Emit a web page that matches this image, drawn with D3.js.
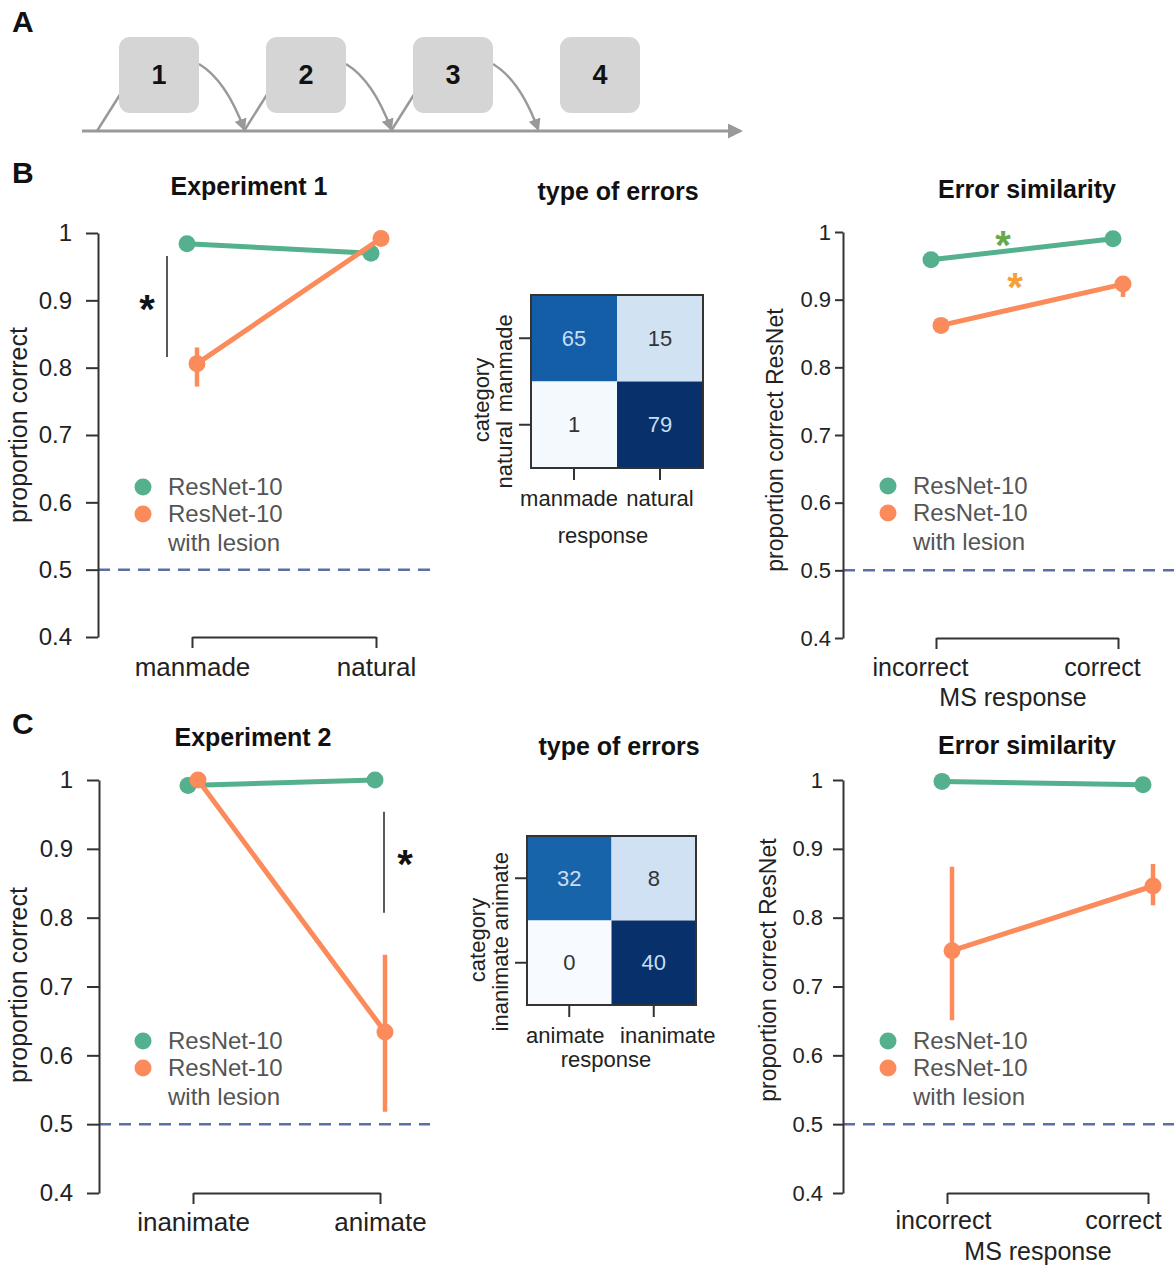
<!DOCTYPE html>
<html>
<head>
<meta charset="utf-8">
<script src="https://cdn.jsdelivr.net/npm/d3@7"></script>
<style>
  body { margin: 0; background: #fff; }
  svg text { font-family: "Liberation Sans", Arial, Helvetica, sans-serif; }
</style>
</head>
<body>
<svg id="fig" width="1174" height="1267"></svg>
<script>
// ---- data ----
const steps = ["1", "2", "3", "4"];
const yTicks = [0.4, 0.5, 0.6, 0.7, 0.8, 0.9, 1];
const seriesColors = ["#54b08d", "#fb8b5b"];

// Experiment 1 (panel B, left)
const exp1Categories = ["manmade", "natural"];
const exp1Base = [0.984, 0.970];
const exp1BaseErr = [[0.980, 0.988], [0.964, 0.975]];
const exp1Lesion = [0.806, 0.992];
const exp1LesionErr = [[0.772, 0.830], [0.986, 0.997]];

// Error similarity, experiment 1 (panel B, right)
const ms1Categories = ["incorrect", "correct"];
const ms1Base = [0.959, 0.990];
const ms1BaseErr = [[0.955, 0.963], [0.986, 0.993]];
const ms1Lesion = [0.862, 0.923];
const ms1LesionErr = [[0.856, 0.868], [0.904, 0.935]];

// Experiment 2 (panel C, left)
const exp2Categories = ["inanimate", "animate"];
const exp2Base = [0.992, 1.0];
const exp2BaseErr = [[0.990, 0.994], [0.998, 1.0]];
const exp2Lesion = [1.0, 0.634];
const exp2LesionErr = [[0.997, 1.0], [0.518, 0.746]];

// Error similarity, experiment 2 (panel C, right)
const ms2Categories = ["incorrect", "correct"];
const ms2Base = [0.998, 0.993];
const ms2BaseErr = [[0.996, 1.0], [0.990, 0.996]];
const ms2Lesion = [0.752, 0.846];
const ms2LesionErr = [[0.651, 0.874], [0.818, 0.878]];

// confusion matrices (rows = category, cols = response)
const conf1Labels = ["manmade", "natural"];
const conf1Counts = [[65, 15], [1, 79]];
const conf2Labels = ["animate", "inanimate"];
const conf2Counts = [[32, 8], [0, 40]];

const svg = d3.select("#fig");

// ---- panel letters ----
[["A", 32], ["B", 183], ["C", 734]].forEach(([t, y]) =>
  svg.append("text").attr("x", 12).attr("y", y).text(t)
    .attr("font-size", 30).attr("font-weight", "bold").attr("fill", "#111"));

// ---- panel A: schematic ----
const stepX = d3.scalePoint().domain(steps).range([159, 600]);
const boxW = 80, boxH = 76, boxTop = 37, timeY = 131;

svg.append("defs").append("marker")
  .attr("id", "arrowHead")
  .attr("viewBox", "0 0 10 10")
  .attr("refX", 8).attr("refY", 5)
  .attr("markerWidth", 5).attr("markerHeight", 5)
  .attr("orient", "auto")
  .append("path").attr("d", "M0,0 L10,5 L0,10 z").attr("fill", "#999");

const aGroup = svg.append("g");
aGroup.append("line")
  .attr("x1", 82).attr("x2", 740).attr("y1", timeY).attr("y2", timeY)
  .attr("stroke", "#999").attr("stroke-width", 3)
  .attr("marker-end", "url(#arrowHead)");

steps.slice(0, 3).forEach((s, i) => {
  let left = stepX(s) - boxW / 2;
  let right = stepX(s) + boxW / 2;
  let nextLeft = stepX(steps[i + 1]) - boxW / 2;
  // line rising to the box
  aGroup.append("line")
    .attr("x1", left - 22).attr("y1", timeY)
    .attr("x2", left + 2).attr("y2", boxTop + boxH - 20)
    .attr("stroke", "#999").attr("stroke-width", 2.5);
  // curved arrow down to the timeline
  let x0 = right, y0 = boxTop + 27, x1 = nextLeft - 22, y1 = timeY - 2;
  let cx = x0 + 0.6 * (x1 - x0), cy = y0 + 0.25 * (y1 - y0);
  aGroup.append("path")
    .attr("d", `M${x0},${y0} Q${cx},${cy} ${x1},${y1}`)
    .attr("fill", "none").attr("stroke", "#999").attr("stroke-width", 2.5)
    .attr("marker-end", "url(#arrowHead)");
});

aGroup.selectAll(".stepBox")
  .data(steps)
  .join("rect")
  .attr("class", "stepBox")
  .attr("x", d => stepX(d) - boxW / 2)
  .attr("y", boxTop)
  .attr("width", boxW).attr("height", boxH)
  .attr("rx", 11)
  .attr("fill", "#d5d5d5");

aGroup.selectAll(".stepLabel")
  .data(steps)
  .join("text")
  .attr("class", "stepLabel")
  .attr("x", d => stepX(d))
  .attr("y", boxTop + boxH / 2)
  .attr("dy", "0.35em")
  .attr("text-anchor", "middle")
  .attr("font-size", 27).attr("font-weight", "bold").attr("fill", "#111")
  .text(d => d);

// ---- point-plot panels ----
function drawPointPanel(p) {
  const y = d3.scaleLinear().domain([0.4, 1]).range([p.yBottom, p.yTop]);
  const x = d3.scalePoint().domain(p.categories).range(p.catRange);
  const g = svg.append("g");

  // chance level
  g.append("line")
    .attr("x1", p.axisX).attr("x2", p.right)
    .attr("y1", y(0.5)).attr("y2", y(0.5))
    .attr("stroke", "#5b6ea8").attr("stroke-width", 2.5)
    .attr("stroke-dasharray", "12,8");

  // y axis
  const ya = g.append("g")
    .attr("transform", `translate(${p.axisX},0)`)
    .call(d3.axisLeft(y)
      .tickValues(yTicks)
      .tickSize(p.tickLen)
      .tickSizeOuter(0)
      .tickPadding(p.tickPad)
      .tickFormat(d => d === 1 ? "1" : d3.format(".1f")(d)));
  ya.selectAll("path, line").attr("stroke", "#333").attr("stroke-width", 2);
  ya.selectAll("text").attr("font-size", p.tickFont).attr("fill", "#222")
    .style("font-family", "'Liberation Sans', Arial, sans-serif");

  // x axis (trimmed spine between the two categories)
  const xa = g.append("g")
    .attr("transform", `translate(0,${p.yBottom})`)
    .call(d3.axisBottom(x).tickSize(11).tickSizeOuter(0));
  xa.selectAll("path, line").attr("stroke", "#333").attr("stroke-width", 2);
  xa.selectAll("text")
    .attr("y", p.xLabelY - p.yBottom)
    .attr("dy", "0.35em")
    .attr("dx", (d, i) => p.xLabelDx[i])
    .attr("font-size", p.xFont).attr("fill", "#222")
    .style("font-family", "'Liberation Sans', Arial, sans-serif");

  if (p.xTitle) {
    g.append("text").attr("x", p.xTitle.x).attr("y", p.xTitle.y).attr("dy", "0.35em")
      .attr("text-anchor", "middle").attr("font-size", 25).attr("fill", "#222")
      .text(p.xTitle.text);
  }

  // y label
  g.append("text")
    .attr("transform", `translate(${p.yLabel.x},${p.yLabel.y}) rotate(-90)`)
    .attr("dy", "0.35em")
    .attr("text-anchor", "middle")
    .attr("font-size", p.yLabel.size).attr("fill", "#222")
    .text(p.yLabel.text);

  // title
  g.append("text").attr("x", p.title.x).attr("y", p.title.y).attr("dy", "0.35em")
    .attr("text-anchor", "middle").attr("font-size", 25).attr("font-weight", "bold")
    .attr("fill", "#111").text(p.title.text);

  // significance bar
  if (p.sig) {
    let sx = x(p.categories[p.sig.cat]) + p.sig.dx;
    g.append("line").attr("x1", sx).attr("x2", sx)
      .attr("y1", y(p.sig.from)).attr("y2", y(p.sig.to))
      .attr("stroke", "#222").attr("stroke-width", 1.5);
  }
  (p.stars || []).forEach(s => {
    g.append("text")
      .attr("x", x(p.categories[0]) + s.dx)
      .attr("y", y(s.v))
      .attr("dy", "0.58em")
      .attr("text-anchor", "middle")
      .attr("font-size", 40).attr("font-weight", "bold")
      .attr("fill", s.color)
      .text("*");
  });

  // series: lines, error bars, points
  const dodge = [-5, 5];
  p.series.forEach((s, k) => {
    const pts = s.values.map((v, i) => ({
      x: x(p.categories[i]) + dodge[k], v: v, err: s.err[i]
    }));
    const line = d3.line().x(d => d.x).y(d => y(d.v));
    g.append("path").attr("d", line(pts))
      .attr("fill", "none").attr("stroke", seriesColors[k]).attr("stroke-width", 5);
    g.selectAll(null).data(pts).join("line")
      .attr("x1", d => d.x).attr("x2", d => d.x)
      .attr("y1", d => y(d.err[0])).attr("y2", d => y(d.err[1]))
      .attr("stroke", seriesColors[k]).attr("stroke-width", 4.5);
    g.selectAll(null).data(pts).join("circle")
      .attr("cx", d => d.x).attr("cy", d => y(d.v)).attr("r", 8.5)
      .attr("fill", seriesColors[k]);
  });

  // legend
  const lg = g.append("g").attr("transform", `translate(${p.legend.x},${p.legend.y})`);
  const legendRows = [["ResNet-10"], ["ResNet-10", "with lesion"]];
  legendRows.forEach((rows, k) => {
    lg.append("circle").attr("cx", 0).attr("cy", k * 27).attr("r", 8.5).attr("fill", seriesColors[k]);
    rows.forEach((t, j) => {
      lg.append("text").attr("x", 25).attr("y", k * 27 + j * 29).attr("dy", "0.35em")
        .attr("font-size", 24).attr("fill", "#555").text(t);
    });
  });
}

drawPointPanel({
  categories: exp1Categories, catRange: [192, 376],
  axisX: 98, yTop: 233, yBottom: 637, right: 430,
  tickLen: 12, tickPad: 14, tickFont: 24,
  xLabelY: 667, xLabelDx: [0, 0], xFont: 26,
  yLabel: { text: "proportion correct", x: 18, y: 425, size: 25 },
  title: { text: "Experiment 1", x: 249, y: 186 },
  legend: { x: 143, y: 487 },
  sig: { cat: 0, dx: -25, from: 0.966, to: 0.816 },
  stars: [{ dx: -45, v: 0.901, color: "#111" }],
  series: [
    { values: exp1Base, err: exp1BaseErr },
    { values: exp1Lesion, err: exp1LesionErr }
  ]
});

drawPointPanel({
  categories: ms1Categories, catRange: [936, 1118],
  axisX: 843, yTop: 232, yBottom: 638, right: 1174,
  tickLen: 8, tickPad: 4, tickFont: 22,
  xLabelY: 667, xLabelDx: [-16, -16], xFont: 25,
  xTitle: { text: "MS response", x: 1013, y: 697 },
  yLabel: { text: "proportion correct ResNet", x: 775, y: 440, size: 23 },
  title: { text: "Error similarity", x: 1027, y: 189 },
  legend: { x: 888, y: 486 },
  stars: [
    { dx: 67, v: 0.995, color: "#6aa847" },
    { dx: 79, v: 0.933, color: "#f5a033" }
  ],
  series: [
    { values: ms1Base, err: ms1BaseErr },
    { values: ms1Lesion, err: ms1LesionErr }
  ]
});

drawPointPanel({
  categories: exp2Categories, catRange: [193, 380],
  axisX: 99, yTop: 780, yBottom: 1193, right: 430,
  tickLen: 12, tickPad: 14, tickFont: 24,
  xLabelY: 1222, xLabelDx: [0, 0], xFont: 26,
  yLabel: { text: "proportion correct", x: 18, y: 985, size: 25 },
  title: { text: "Experiment 2", x: 253, y: 737 },
  legend: { x: 143, y: 1041 },
  sig: { cat: 1, dx: 4, from: 0.954, to: 0.807 },
  stars: [{ dx: 212, v: 0.891, color: "#111" }],
  series: [
    { values: exp2Base, err: exp2BaseErr },
    { values: exp2Lesion, err: exp2LesionErr }
  ]
});

drawPointPanel({
  categories: ms2Categories, catRange: [947, 1148],
  axisX: 843, yTop: 780, yBottom: 1193, right: 1174,
  tickLen: 10, tickPad: 10, tickFont: 22,
  xLabelY: 1220, xLabelDx: [-4, -25], xFont: 25,
  xTitle: { text: "MS response", x: 1038, y: 1251 },
  yLabel: { text: "proportion correct ResNet", x: 768, y: 970, size: 23 },
  title: { text: "Error similarity", x: 1027, y: 745 },
  legend: { x: 888, y: 1041 },
  series: [
    { values: ms2Base, err: ms2BaseErr },
    { values: ms2Lesion, err: ms2LesionErr }
  ]
});

// ---- confusion-matrix heatmaps ----
function drawHeatmap(h) {
  const x = d3.scaleBand().domain(h.labels).range([h.x0, h.x1]);
  const y = d3.scaleBand().domain(h.labels).range([h.y0, h.y1]);
  const maxCount = d3.max(h.counts.flat());
  const color = d3.scaleSequential(d3.interpolateBlues).domain([0, maxCount]);
  const g = svg.append("g");

  const cells = [];
  h.counts.forEach((row, i) => row.forEach((v, j) =>
    cells.push({ row: h.labels[i], col: h.labels[j], v: v })));

  g.selectAll("rect.cell").data(cells).join("rect")
    .attr("class", "cell")
    .attr("x", d => x(d.col)).attr("y", d => y(d.row))
    .attr("width", x.bandwidth()).attr("height", y.bandwidth())
    .attr("fill", d => color(d.v));

  g.selectAll("text.val").data(cells).join("text")
    .attr("class", "val")
    .attr("x", d => x(d.col) + x.bandwidth() / 2)
    .attr("y", d => y(d.row) + y.bandwidth() / 2)
    .attr("dy", "0.35em").attr("text-anchor", "middle")
    .attr("font-size", 22)
    .attr("fill", d => d.v > maxCount * 0.5 ? "#c9ddf2" : "#333")
    .text(d => d.v);

  g.append("rect").attr("x", h.x0).attr("y", h.y0)
    .attr("width", h.x1 - h.x0).attr("height", h.y1 - h.y0)
    .attr("fill", "none").attr("stroke", "#333").attr("stroke-width", 2);

  h.labels.forEach((lab, i) => {
    let yc = y(lab) + y.bandwidth() / 2;
    let xc = x(lab) + x.bandwidth() / 2;
    g.append("line").attr("x1", h.x0 - 12).attr("x2", h.x0).attr("y1", yc).attr("y2", yc)
      .attr("stroke", "#333").attr("stroke-width", 2);
    g.append("line").attr("x1", xc).attr("x2", xc).attr("y1", h.y1).attr("y2", h.y1 + 12)
      .attr("stroke", "#333").attr("stroke-width", 2);
    g.append("text")
      .attr("transform", `translate(${h.x0 - 27},${yc + h.yLabelDy[i]}) rotate(-90)`)
      .attr("dy", "0.35em").attr("text-anchor", "middle")
      .attr("font-size", 22).attr("fill", "#222").text(lab);
    g.append("text")
      .attr("x", xc + h.xLabelDx[i]).attr("y", h.xLabelY).attr("dy", "0.35em")
      .attr("text-anchor", "middle").attr("font-size", 22).attr("fill", "#222").text(lab);
  });

  g.append("text")
    .attr("transform", `translate(${h.x0 - 50},${h.catY}) rotate(-90)`)
    .attr("dy", "0.35em").attr("text-anchor", "middle")
    .attr("font-size", 22).attr("fill", "#222").text("category");
  g.append("text").attr("x", h.respX).attr("y", h.respY).attr("dy", "0.35em")
    .attr("text-anchor", "middle").attr("font-size", 22).attr("fill", "#222").text("response");
  g.append("text").attr("x", h.titleX).attr("y", h.titleY).attr("dy", "0.35em")
    .attr("text-anchor", "middle").attr("font-size", 25).attr("font-weight", "bold")
    .attr("fill", "#111").text("type of errors");
}

drawHeatmap({
  labels: conf1Labels, counts: conf1Counts,
  x0: 531, x1: 703, y0: 295, y1: 468,
  yLabelDy: [25, 30], xLabelDx: [-5, 0], xLabelY: 498,
  catY: 400, respX: 603, respY: 535, titleX: 618, titleY: 191
});

drawHeatmap({
  labels: conf2Labels, counts: conf2Counts,
  x0: 527, x1: 696, y0: 836, y1: 1005,
  yLabelDy: [13, 21], xLabelDx: [-4, 14], xLabelY: 1035,
  catY: 940, respX: 606, respY: 1059, titleX: 619, titleY: 746
});
</script>
</body>
</html>
